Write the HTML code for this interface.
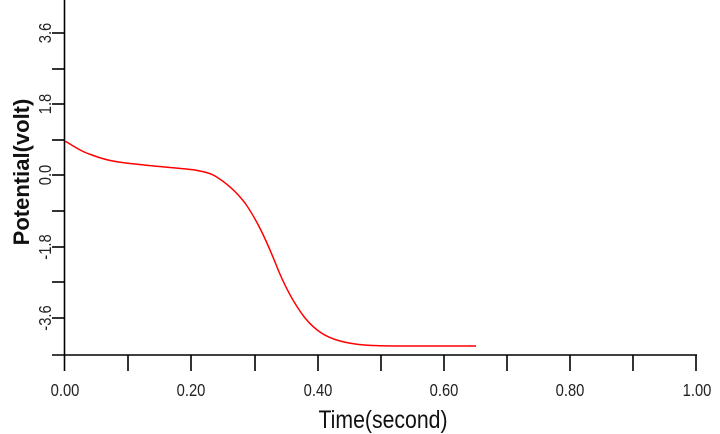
<!DOCTYPE html><html><head><style>body{margin:0;background:#fff}svg{display:block}</style></head><body>
<svg width="720" height="434" xmlns="http://www.w3.org/2000/svg" font-family="'Liberation Sans',sans-serif">
<g stroke="#000" stroke-width="1.6" fill="none">
<line x1="64.5" y1="0" x2="64.5" y2="355"/>
<line x1="52" y1="355" x2="697" y2="355"/>
<line x1="52" y1="33" x2="64" y2="33"/><line x1="52" y1="69" x2="64" y2="69"/><line x1="52" y1="104" x2="64" y2="104"/><line x1="52" y1="140" x2="64" y2="140"/><line x1="52" y1="175" x2="64" y2="175"/><line x1="52" y1="211" x2="64" y2="211"/><line x1="52" y1="247" x2="64" y2="247"/><line x1="52" y1="282" x2="64" y2="282"/><line x1="52" y1="318" x2="64" y2="318"/>
<line x1="64.5" y1="355" x2="64.5" y2="371"/><line x1="128" y1="355" x2="128" y2="371"/><line x1="191" y1="355" x2="191" y2="371"/><line x1="255" y1="355" x2="255" y2="371"/><line x1="318" y1="355" x2="318" y2="371"/><line x1="381" y1="355" x2="381" y2="371"/><line x1="444" y1="355" x2="444" y2="371"/><line x1="507" y1="355" x2="507" y2="371"/><line x1="570" y1="355" x2="570" y2="371"/><line x1="633" y1="355" x2="633" y2="371"/><line x1="696" y1="355" x2="696" y2="371"/>
</g>
<path d="M65,141 C75,147 82,152 92,155 C105,160 115,162 135,164 C160,167 180,168 195,170 C205,172 210,173 215,176 C225,182 235,190 245,203 C257,220 266,240 275,262 C285,288 295,305 305,318 C315,330 325,337 340,341 C355,345 370,346 400,346 L476,346" stroke="#f00" stroke-width="1.5" fill="none"/>
<g font-size="18" fill="#222" text-anchor="middle">
<text transform="translate(65,396) scale(0.82,1)">0.00</text><text transform="translate(191,396) scale(0.82,1)">0.20</text><text transform="translate(318,396) scale(0.82,1)">0.40</text><text transform="translate(444,396) scale(0.82,1)">0.60</text><text transform="translate(570,396) scale(0.82,1)">0.80</text><text transform="translate(697,396) scale(0.82,1)">1.00</text>
<text transform="translate(51,33) rotate(-90) scale(0.82,1)">3.6</text>
<text transform="translate(51,104) rotate(-90) scale(0.82,1)">1.8</text>
<text transform="translate(51,175) rotate(-90) scale(0.82,1)">0.0</text>
<text transform="translate(51,247) rotate(-90) scale(0.82,1)">-1.8</text>
<text transform="translate(51,318) rotate(-90) scale(0.82,1)">-3.6</text>
</g>
<text transform="translate(383,428) scale(0.85,1)" font-size="25" text-anchor="middle" fill="#111">Time(second)</text>
<text transform="translate(29,172) rotate(-90)" font-size="22" font-weight="bold" text-anchor="middle" fill="#111">Potential(volt)</text>
</svg></body></html>
